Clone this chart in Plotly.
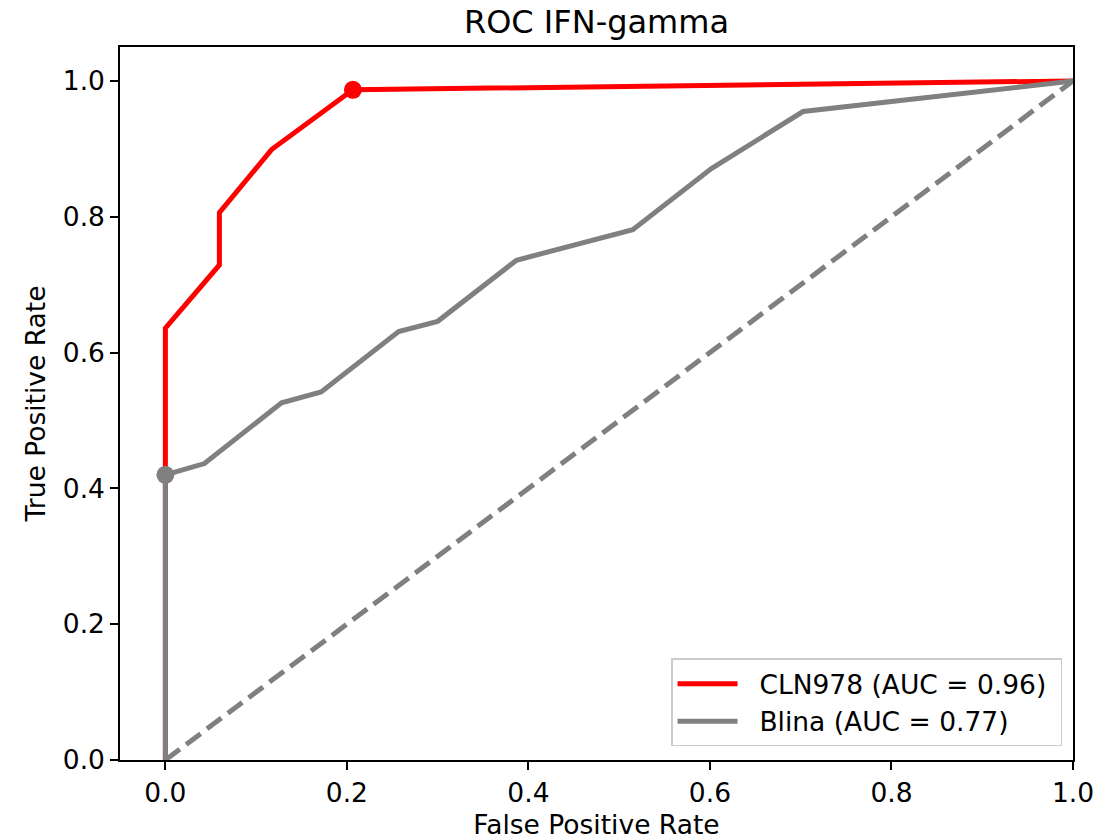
import plotly.graph_objects as go

# CLN978 ROC curve
cln_fpr = [0.0, 0.0, 0.0595, 0.0595, 0.117, 0.2066, 1.0]
cln_tpr = [0.0, 0.636, 0.729, 0.806, 0.899, 0.987, 1.0]
cln_opt = (0.2066, 0.987)

# Blina ROC curve
bl_fpr = [0.0, 0.0, 0.043, 0.128, 0.1716, 0.257, 0.300, 0.3868, 0.515, 0.6016, 0.7026, 1.0]
bl_tpr = [0.0, 0.420, 0.4366, 0.526, 0.542, 0.631, 0.646, 0.736, 0.781, 0.871, 0.955, 1.0]
bl_opt = (0.0, 0.420)

chance = [0.0, 1.0]

names = ["CLN978 (AUC = 0.96)", "Blina (AUC = 0.77)"]
RED = "#ff0000"
GRAY = "#808080"
FONT = "DejaVu Sans"
FS = 26.5
LW = 5
PAD = "\u00a0"

fig = go.Figure()
fig.add_trace(go.Scatter(x=cln_fpr, y=cln_tpr, mode="lines", name=PAD * 2 + names[0] + PAD,
                         line=dict(color=RED, width=LW)))
fig.add_trace(go.Scatter(x=bl_fpr, y=bl_tpr, mode="lines", name=PAD * 2 + names[1] + PAD,
                         line=dict(color=GRAY, width=LW)))
fig.add_trace(go.Scatter(x=chance, y=chance, mode="lines", showlegend=False,
                         line=dict(color=GRAY, width=LW, dash="18px,8px")))
fig.add_trace(go.Scatter(x=[cln_opt[0]], y=[cln_opt[1]], mode="markers", showlegend=False,
                         marker=dict(color=RED, size=18)))
fig.add_trace(go.Scatter(x=[bl_opt[0]], y=[bl_opt[1]], mode="markers", showlegend=False,
                         marker=dict(color=GRAY, size=18)))

axis_common = dict(showgrid=False, zeroline=False, showline=True, linecolor="black",
                   linewidth=1.5, mirror=True, ticks="outside", ticklen=8, tickwidth=1.5,
                   tickcolor="black", tickfont=dict(family=FONT, size=FS, color="black"),
                   tickformat=".1f", dtick=0.2, automargin=False)

H = 840
fig.update_layout(
    width=1116, height=H,
    margin=dict(l=120, r=43, t=47, b=80),
    plot_bgcolor="white", paper_bgcolor="white",
    title=dict(text="ROC IFN-gamma", x=0.5, xref="paper", xanchor="center",
               y=1 - 22 / H, yref="container", yanchor="middle",
               font=dict(family=FONT, size=32, color="black")),
    xaxis=dict(range=[-0.05, 1.0], tick0=0,
               title=dict(text="False Positive Rate", standoff=10,
                          font=dict(family=FONT, size=FS, color="black")),
               **axis_common),
    yaxis=dict(range=[0.0, 1.05], tick0=0,
               title=dict(text="True Positive Rate", standoff=10,
                          font=dict(family=FONT, size=FS, color="black")),
               **axis_common),
    legend=dict(x=0.9885, xanchor="right", y=0.019, yanchor="bottom",
                bgcolor="rgba(255,255,255,0.8)", bordercolor="#cccccc", borderwidth=1.5,
                font=dict(family=FONT, size=FS, color="black"),
                itemwidth=60, tracegroupgap=0),
    showlegend=True,
)

fig.write_html("out.html", config={"displayModeBar": False},
               post_script="document.body.style.margin='0';document.body.style.overflow='hidden';")
